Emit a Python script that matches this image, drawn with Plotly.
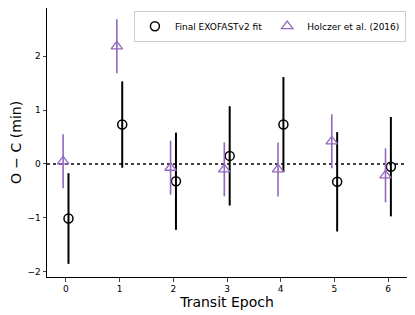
import plotly.graph_objects as go

epochs = [0, 1, 2, 3, 4, 5, 6]
exofast_oc = [-1.01, 0.73, -0.32, 0.15, 0.73, -0.33, -0.05]
exofast_err = [0.84, 0.80, 0.90, 0.92, 0.88, 0.92, 0.92]
holczer_oc = [0.05, 2.18, -0.07, -0.10, -0.10, 0.42, -0.21]
holczer_err = [0.50, 0.50, 0.50, 0.50, 0.50, 0.50, 0.50]
offset = 0.05

purple = "#9467bd"
fig = go.Figure()
fig.add_trace(go.Scatter(
    x=[e + offset for e in epochs], y=exofast_oc, mode="markers",
    name="Final EXOFASTv2 fit",
    marker=dict(symbol="circle-open", size=9, color="black", line=dict(width=1.5, color="black")),
    error_y=dict(type="data", array=exofast_err, color="black", thickness=2, width=0),
))
fig.add_trace(go.Scatter(
    x=[e - offset for e in epochs], y=holczer_oc, mode="markers",
    name="Holczer et al. (2016)",
    marker=dict(symbol="triangle-up-open", size=10, color=purple, line=dict(width=1.3, color=purple)),
    error_y=dict(type="data", array=holczer_err, color=purple, thickness=1.6, width=0),
))
fig.add_shape(type="line", xref="paper", x0=0, x1=1, yref="y", y0=0, y1=0,
              line=dict(color="black", width=1.5, dash="dot"), layer="below")

font = "DejaVu Sans"
fig.update_layout(
    width=415, height=315,
    margin=dict(l=39, r=16, t=0, b=46, autoexpand=False),
    plot_bgcolor="white", paper_bgcolor="white",
    font=dict(family=font, size=9, color="black"),
    showlegend=True,
    legend=dict(orientation="h", x=0.997, xanchor="right", y=0.99, yanchor="top",
                bgcolor="rgba(255,255,255,0.8)", bordercolor="#cccccc", borderwidth=1,
                font=dict(size=9, family=font), tracegroupgap=0),
)
fig.update_xaxes(range=[-0.35, 6.35], tickvals=epochs, ticks="outside", ticklen=3.5,
                 showline=True, linecolor="black", linewidth=1, mirror=True,
                 showgrid=False, zeroline=False, automargin=False,
                 title=dict(text="Transit Epoch", font=dict(size=14, family=font), standoff=2))
fig.update_yaxes(range=[-2.093, 2.889], tickvals=[-2, -1, 0, 1, 2],
                 ticktext=["\u22122", "\u22121", "0", "1", "2"],
                 ticks="outside", ticklen=3.5,
                 showline=True, linecolor="black", linewidth=1, mirror=True,
                 showgrid=False, zeroline=False, automargin=False,
                 title=dict(text="O \u2212 C (min)", font=dict(size=14, family=font), standoff=4))
fig.write_html("out.html")
